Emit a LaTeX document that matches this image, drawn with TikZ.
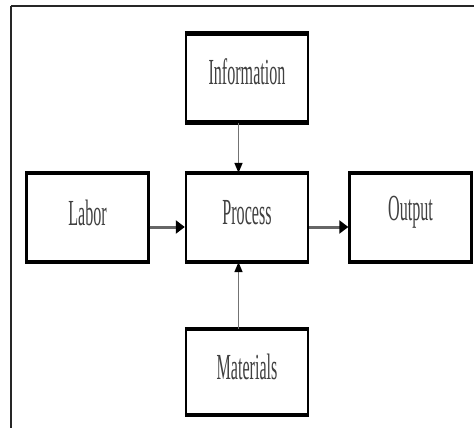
\documentclass[tikz,border=0pt]{standalone}
\usepackage{graphicx}
\usepackage{fontspec}
\setmainfont{Liberation Serif}
\usetikzlibrary{arrows.meta}
\newcommand{\sqz}[1]{\scalebox{0.46}[1.05]{\fontsize{35}{35}\selectfont #1}}
\tikzset{
  blk/.style={draw=black, line width=2.4pt, minimum width=122pt, minimum height=87pt,
    inner sep=0pt, text=black!80},
  thin arrow/.style={draw=black!55, line width=1.6pt, -{Triangle[length=10pt,width=8pt,color=black]}},
  thick arrow/.style={draw=black!60, line width=3pt, -{Triangle[length=9pt,width=13pt,color=black]}},
  lbl/.style={text=black!75},
}
\begin{document}
\begin{tikzpicture}[x=1pt,y=-1pt]
\useasboundingbox (0,0) rectangle (474,428);
\fill[white] (0,0) rectangle (474,428);
\draw[black!85, line width=1.6pt] (11,6) -- (480,6);
\draw[black!85, line width=1.6pt] (11,6) -- (11,440);
\node[blk] (info) at (247,78) {};
\node[blk] (lab) at (87.5,217.5) {};
\node[blk] (proc) at (247,217.5) {};
\node[blk] (out) at (410.5,217.5) {};
\node[blk, minimum height=84pt] (mat) at (247,372) {};
\foreach \n in {info,lab,proc,out,mat}{
  \draw[line width=4pt] (\n.north west) -- (\n.north east);
  \draw[line width=4pt] (\n.south west) -- (\n.south east);
}
\node[lbl] (tinfo) at ([yshift=6pt]info.center) {\sqz{Information}};
\node[lbl] (tlab) at ([yshift=5pt]lab.center) {\sqz{Labor}};
\node[lbl] (tproc) at ([yshift=5pt]proc.center) {\sqz{Process}};
\node[lbl] (tout) at ([yshift=5pt]out.center) {\sqz{Output}};
\node[lbl] (tmat) at ([yshift=5pt]mat.center) {\sqz{Materials}};
\draw[thick arrow] ([yshift=-9.5pt]lab.east) -- ([yshift=-9.5pt]proc.west);
\draw[thick arrow] ([yshift=-9.5pt]proc.east) -- ([yshift=-9.5pt]out.west);
\draw[thin arrow] ([xshift=-8.5pt]info.south) -- ([xshift=-8.5pt]proc.north);
\draw[thin arrow] ([xshift=-8.5pt]mat.north) -- ([xshift=-8.5pt]proc.south);
\end{tikzpicture}
\end{document}
